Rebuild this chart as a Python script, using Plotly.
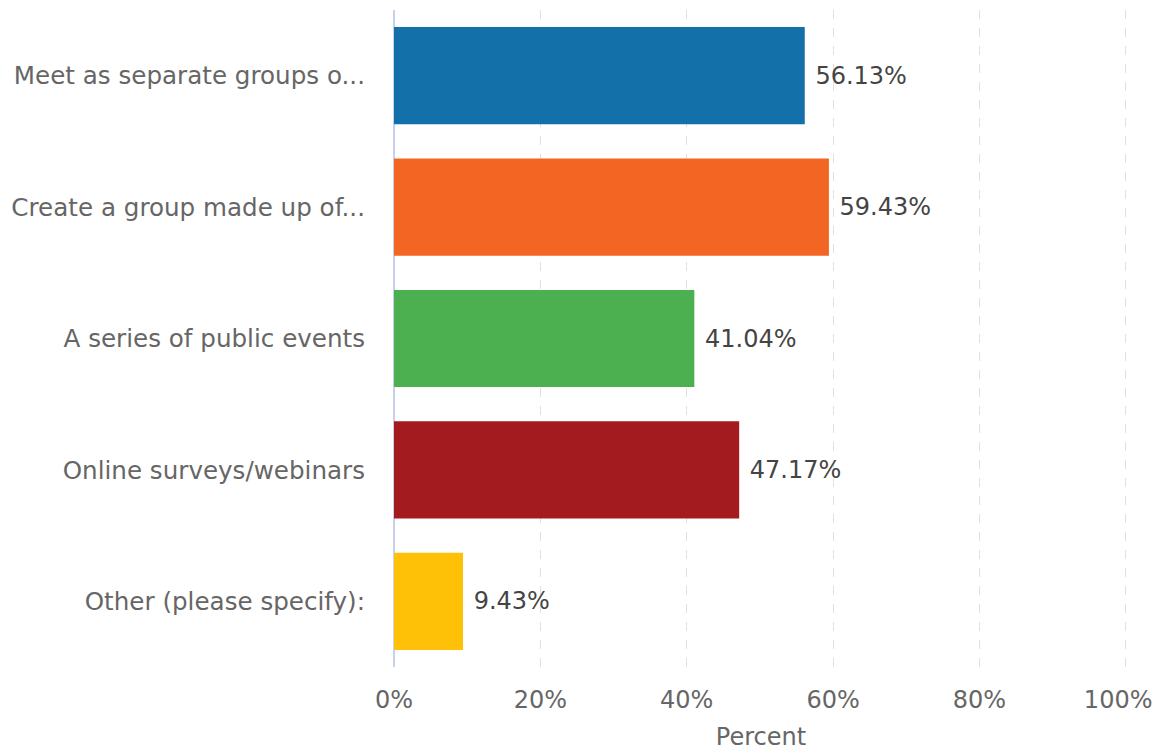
import plotly.graph_objects as go

# survey answers, top to bottom as drawn
categories = [
    "Meet as separate groups o...",
    "Create a group made up of...",
    "A series of public events",
    "Online surveys/webinars",
    "Other (please specify):",
]
percent = [56.13, 59.43, 41.04, 47.17, 9.43]
bar_colors = ["#1470a9", "#f26522", "#4caf50", "#a31b1f", "#ffc107"]
x_ticks = [0, 20, 40, 60, 80, 100]
# trailing nbsp nudges the last label in from the right edge
x_tick_labels = ["0%", "20%", "40%", "60%", "80%", "100%\u00a0\u00a0"]

# the page puts an 8px body margin round the figure, so shrink to fit
fig = go.Figure()
fig.add_trace(go.Bar(
    y=categories,
    x=percent,
    orientation="h",
    marker=dict(color=bar_colors, line=dict(width=0)),
    width=0.74,
    texttemplate=" %{x:.2f}%",
    textposition="outside",
    textfont=dict(size=24, color="#444444", family="DejaVu Sans"),
    cliponaxis=False,
))

fig.update_layout(
    width=1153,
    height=743,
    margin=dict(l=386, r=33, t=2, b=84),
    paper_bgcolor="white",
    plot_bgcolor="white",
    showlegend=False,
    font=dict(family="DejaVu Sans", color="#666666"),
    xaxis=dict(
        # a touch past 100 so plotly keeps the last gridline
        range=[0, 100.3],
        tickvals=x_ticks,
        ticktext=x_tick_labels,
        tickfont=dict(size=24, color="#666666"),
        ticklabeloverflow="allow",
        automargin=False,
        showgrid=True,
        gridcolor="#e0e0e0",
        griddash="dash",
        gridwidth=1,
        zeroline=True,
        zerolinecolor="#c9d1ea",
        zerolinewidth=2,
        ticks="",
        ticklabelstandoff=16,
        title=dict(text="Percent", font=dict(size=24, color="#666666"),
                   standoff=17),
    ),
    yaxis=dict(
        autorange="reversed",
        tickfont=dict(size=24.6, color="#666666"),
        automargin=False,
        showgrid=False,
        zeroline=False,
        ticks="",
        ticklabelstandoff=28,
    ),
)

fig.write_html("out.html")
